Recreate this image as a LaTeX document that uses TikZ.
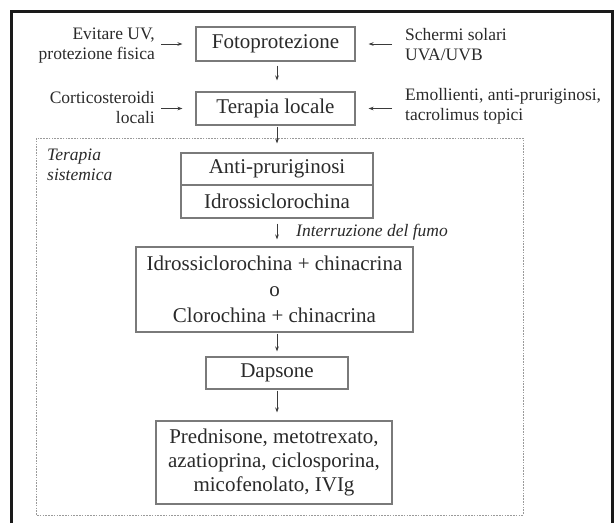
\documentclass[tikz,border=0pt]{standalone}
\usepackage{fontspec}
\setmainfont{Liberation Serif}
\usetikzlibrary{arrows.meta}
\definecolor{txt}{HTML}{2A2A2A}
\definecolor{boxc}{HTML}{7A7A7A}
\definecolor{arrc}{HTML}{3A3A3A}
\definecolor{dashc}{HTML}{9A9A9A}
\definecolor{framec}{HTML}{1A1A1A}
\tikzset{
  mainbox/.style={draw=boxc, line width=1.1pt, inner sep=0pt, align=center, text=txt,
    font=\fontsize{21}{26}\selectfont},
  sidetext/.style={inner sep=0pt, text=txt, font=\fontsize{17.5}{20}\selectfont},
  itlabel/.style={inner sep=0pt, text=txt, font=\fontsize{17.5}{20}\selectfont\itshape, align=left},
  arr/.style={draw=arrc, line width=0.9pt, -{Stealth[length=5pt,width=3.6pt]}}
}
\begin{document}
\begin{tikzpicture}[x=1pt,y=-1pt]
\useasboundingbox (0,0) rectangle (615,523);
% outer frame (open at bottom)
\draw[framec, line width=3pt] (11.5,523) -- (11.5,11.5) -- (612.5,11.5) -- (612.5,523);
% dashed system box
\draw[dashc, line width=0.9pt, dash pattern=on 1.6pt off 1.2pt] (36,138) rectangle (523,515);

% top boxes
\node[mainbox, minimum width=159pt, minimum height=34pt] (foto) at (275.5,44) {Fotoprotezione};
\node[mainbox, minimum width=159pt, minimum height=33pt] (locale) at (275.5,108.5) {Terapia locale};

% side texts
\node[sidetext, anchor=east, align=right] (evit) at (155,46) {Evitare UV,\\protezione fisica};
\node[sidetext, anchor=west, align=left] (scher) at (405,45) {Schermi solari\\UVA/UVB};
\node[sidetext, anchor=east, align=right] (cort) at (155,108) {Corticosteroidi\\locali};
\node[sidetext, anchor=west, align=left] (emol) at (405,106) {Emollienti, anti-pruriginosi,\\tacrolimus topici};

\draw[arr, shorten <=6pt, shorten >=13pt] (evit.east |- foto.west) -- (foto.west);
\draw[arr, shorten <=13pt, shorten >=13pt] (scher.west |- foto.east) -- (foto.east);
\draw[arr, shorten <=6pt, shorten >=13pt] (cort.east |- locale.west) -- (locale.west);
\draw[arr, shorten <=13pt, shorten >=13pt] (emol.west |- locale.east) -- (locale.east);

% systemic therapy
\node[itlabel, anchor=west] (sist) at (47,165) {Terapia\\sistemica};
\node[mainbox, minimum width=192pt, minimum height=32pt] (antiA) at (277,169) {Anti-pruriginosi};
\node[mainbox, minimum width=192pt, minimum height=33pt] (antiB) at (277,201.5) {Idrossiclorochina};
\node[mainbox, minimum width=277pt, minimum height=85pt] (big) at (274.5,289.5)
  {Idrossiclorochina + chinacrina\\o\\Clorochina + chinacrina};
\node[mainbox, minimum width=142pt, minimum height=32pt] (dap) at (277,373) {Dapsone};
\node[mainbox, minimum width=236pt, minimum height=83pt, font=\fontsize{21}{24}\selectfont] (last) at (274,462.5)
  {Prednisone, metotrexato,\\azatioprina, ciclosporina,\\micofenolato, IVIg};
\node[itlabel, anchor=west] (fumo) at (296,232) {Interruzione del fumo};

% vertical arrows
\draw[arr, shorten <=4pt, shorten >=11pt] (foto.south -| 277,0) -- (locale.north -| 277,0);
\draw[arr, shorten <=1pt, shorten >=9pt] (locale.south -| antiA.north) -- (antiA.north);
\draw[arr, shorten <=5pt, shorten >=7pt] (antiB.south) -- (antiB.south |- big.north);
\draw[arr, shorten <=1pt, shorten >=5pt] (big.south -| dap.north) -- (dap.north);
\draw[arr, shorten <=1pt, shorten >=8pt] (dap.south) -- (dap.south |- last.north);
\end{tikzpicture}
\end{document}
